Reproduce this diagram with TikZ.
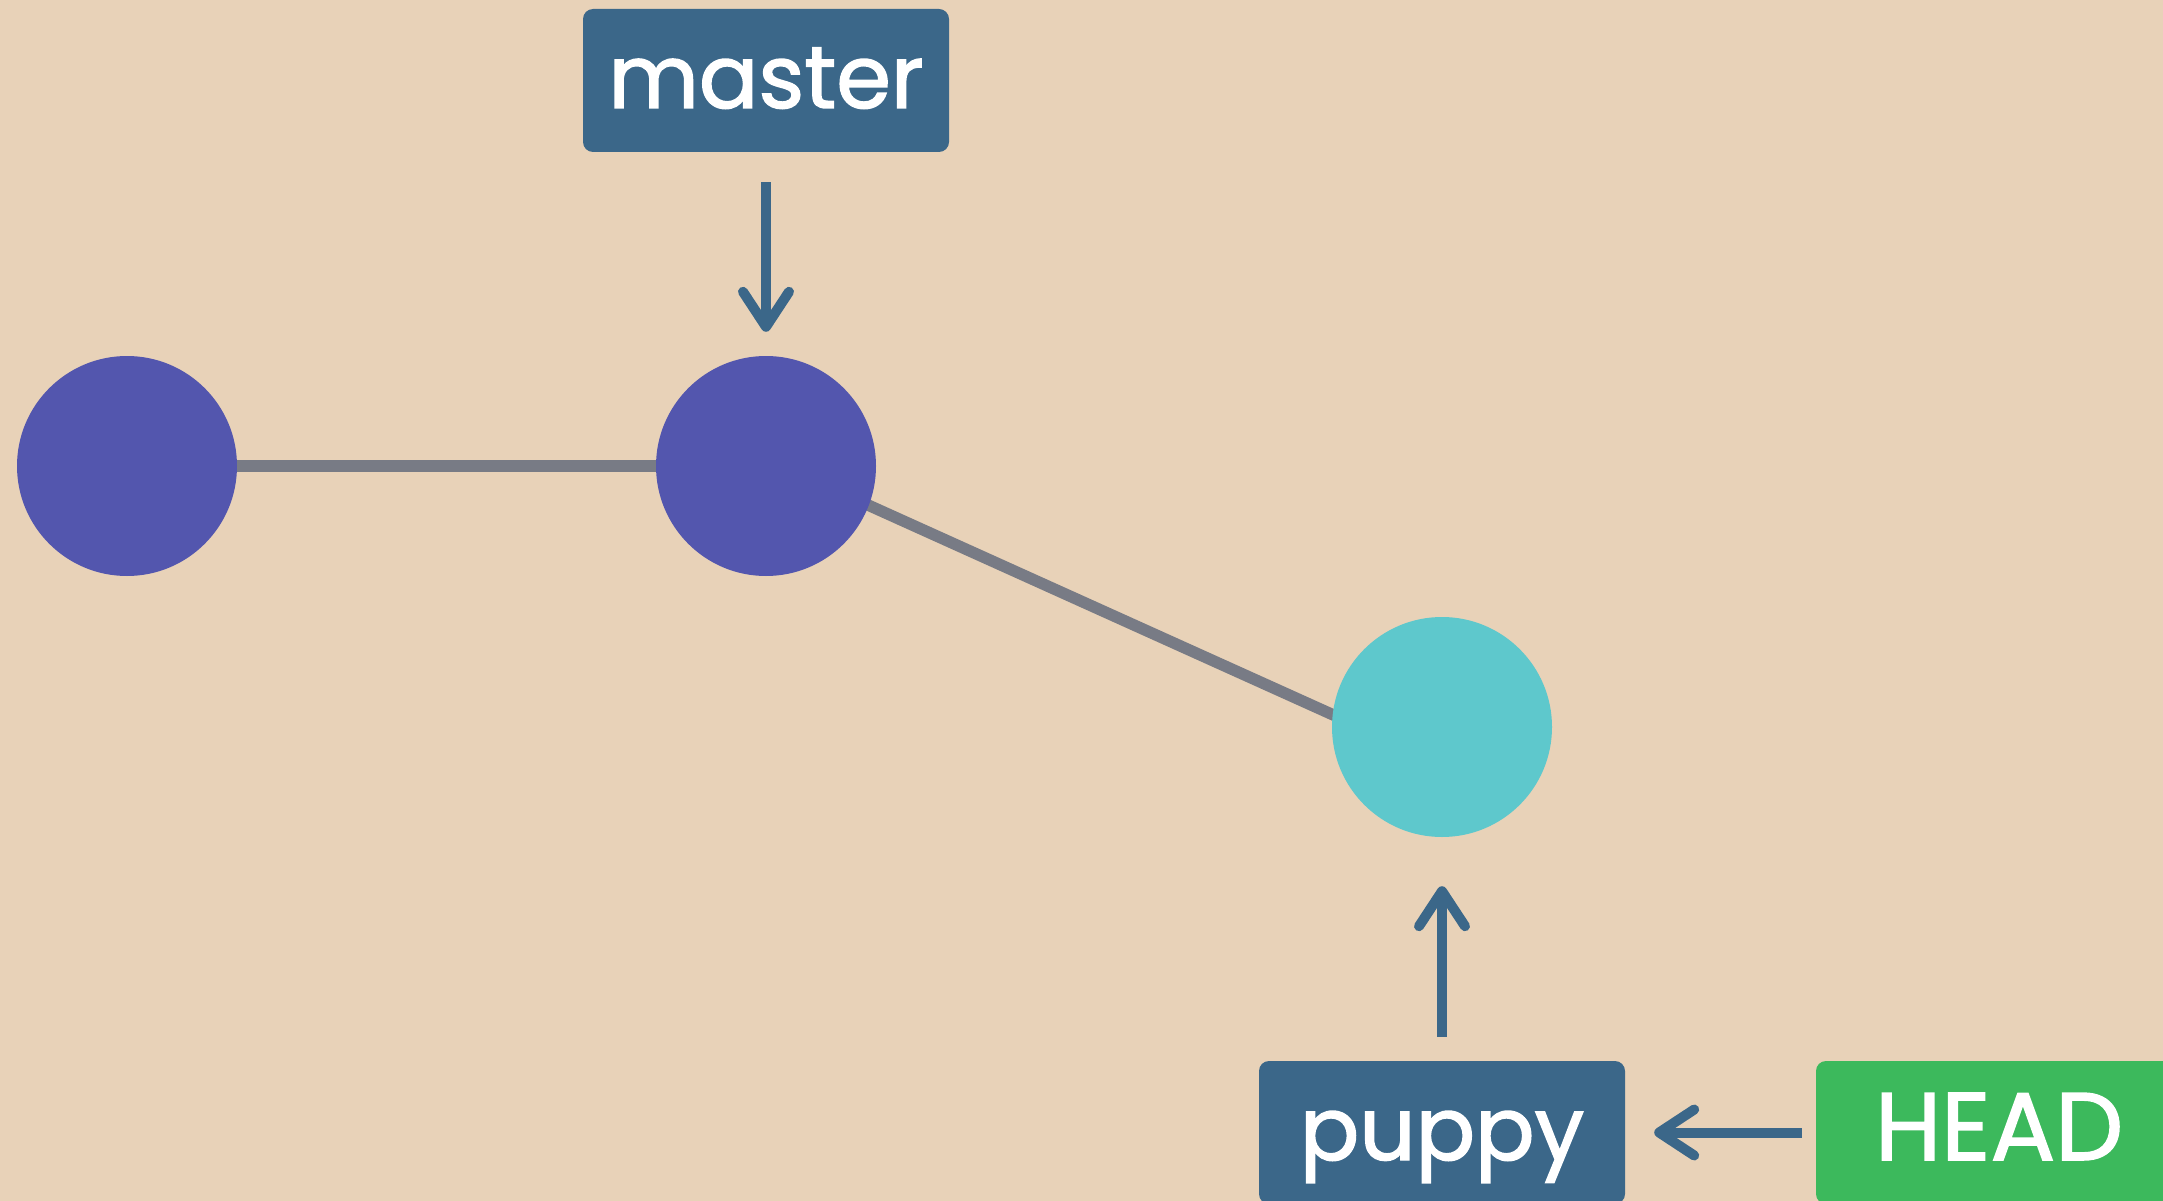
\documentclass[tikz,border=0pt]{standalone}
\usepackage{fontspec}
\setmainfont{Poppins}
\newfontfamily\reffont{Poppins}[FakeBold=1.6]
\usetikzlibrary{arrows.meta,backgrounds}
\definecolor{bg}{HTML}{E8D2B8}
\definecolor{boxblue}{HTML}{3B6789}
\definecolor{commit}{HTML}{5356AE}
\definecolor{current}{HTML}{5EC8CC}
\definecolor{headgreen}{HTML}{3CB95C}
\definecolor{edgegray}{HTML}{787B85}
\tikzset{
  commitnode/.style={circle, fill=commit, minimum size=220pt, inner sep=0pt},
  refbox/.style={rectangle, rounded corners=10pt, fill=boxblue, minimum width=366pt,
    minimum height=143pt, inner sep=0pt, text=white, text height=55pt, text depth=0pt,
    font=\reffont\fontsize{88}{100}\selectfont},
  history/.style={draw=edgegray, line width=11.5pt},
  pointer/.style={draw=boxblue, line width=10pt,
    -{Straight Barb[length=35pt, width=46pt, round]}}
}
\begin{document}
\begin{tikzpicture}[x=1pt,y=-1pt]
\begin{scope}[on background layer]
  \fill[bg] (0,0) rectangle (2163,1201);
\end{scope}
\useasboundingbox (0,0) rectangle (2163,1201);
\node[commitnode] (c1) at (127,466) {};
\node[commitnode] (c2) at (766,466) {};
\node[commitnode, fill=current] (c3) at (1442,727) {};
\node[refbox] (master) at (766,80.5) {master};
\node[refbox] (puppy) at (1442,1132.5) {puppy};
\node[refbox, fill=headgreen, font=\reffont\fontsize{96}{110}\selectfont] (head) at (1999,1132.5) {HEAD};
\begin{scope}[on background layer]
  \draw[history] (c1.center) -- (c2.center);
  \draw[history] ([yshift=7pt]c2.center) -- ([yshift=-37pt]c3.center);
\end{scope}
\draw[pointer, shorten <=30pt, shorten >=24pt] (master.south) -- (c2.north);
\draw[pointer, shorten <=24pt, shorten >=49pt] (puppy.north) -- (c3.south);
\draw[pointer, shorten <=14pt, shorten >=29pt] (head.west) -- (puppy.east);
\end{tikzpicture}
\end{document}
